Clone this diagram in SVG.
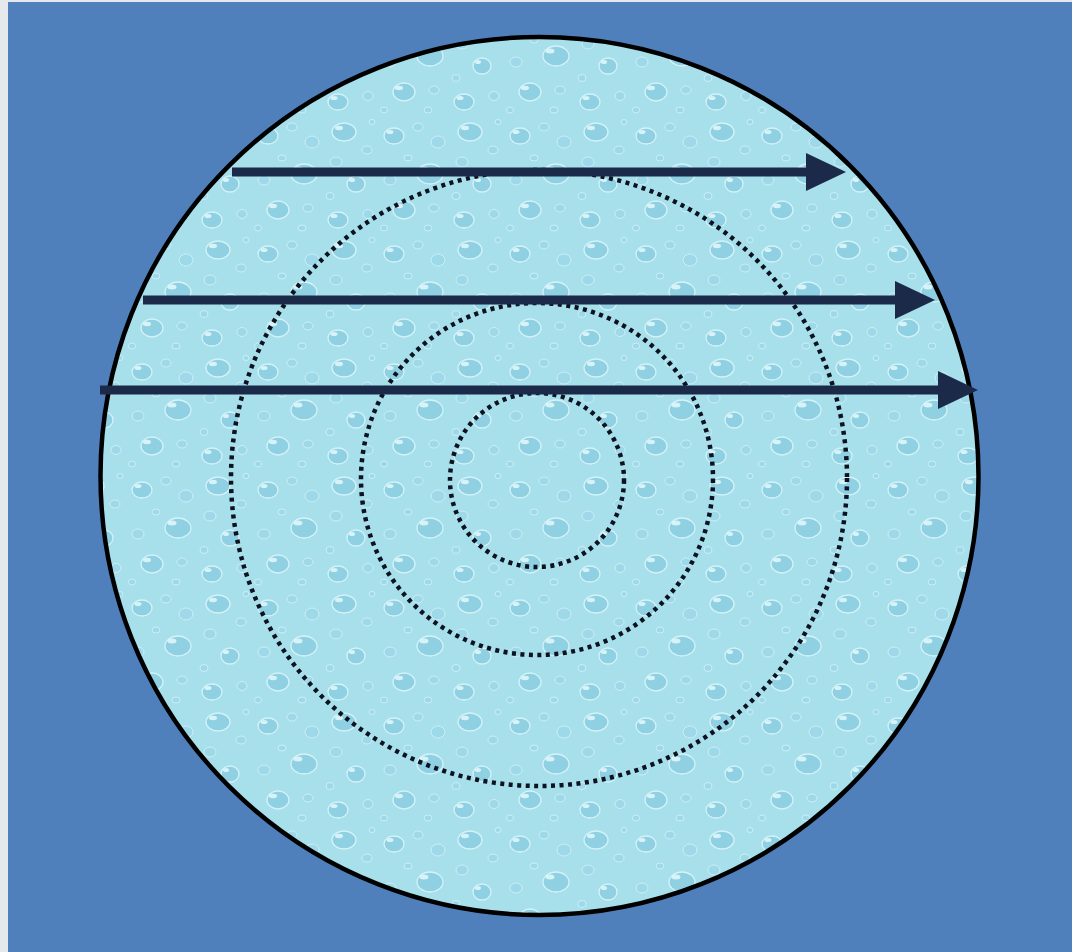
<svg xmlns="http://www.w3.org/2000/svg" width="1072" height="952" viewBox="0 0 1072 952">
<defs>
<style>
.dot{fill:none;stroke:#0d1220;stroke-width:4.5;stroke-dasharray:4 4.5}
.arr{stroke:#1b2a48;stroke-width:9;fill:none}
.head{fill:#1b2a48}
.d{fill:#8fd0e2;stroke:#d4f3f8;stroke-width:1.3}
.d2{fill:#9dd9e8;stroke:#cdeff6;stroke-width:1}
.h{fill:#e4f9fc;opacity:0.85}
</style>
<pattern id="drops" width="126" height="118" patternUnits="userSpaceOnUse">
<rect width="126" height="118" fill="#a7dfeb"/>
<ellipse class="d" cx="16" cy="18" rx="10" ry="8"/>
<ellipse class="h" cx="12" cy="14" rx="3.5" ry="2"/>
<ellipse class="d2" cx="40" cy="9" rx="5" ry="4"/>
<ellipse class="d2" cx="60" cy="24" rx="7" ry="6"/>
<ellipse class="d" cx="92" cy="14" rx="12" ry="9"/>
<ellipse class="h" cx="87" cy="10" rx="4" ry="2.2"/>
<ellipse class="d2" cx="115" cy="32" rx="5" ry="4"/>
<ellipse class="d2" cx="30" cy="40" rx="4" ry="3"/>
<ellipse class="d" cx="52" cy="56" rx="13" ry="10"/>
<ellipse class="h" cx="46" cy="51" rx="4.5" ry="2.5"/>
<ellipse class="d2" cx="84" cy="44" rx="6" ry="5"/>
<ellipse class="d2" cx="12" cy="62" rx="6" ry="5"/>
<ellipse class="d" cx="104" cy="66" rx="9" ry="8"/>
<ellipse class="h" cx="100" cy="62" rx="3" ry="2"/>
<ellipse class="d2" cx="78" cy="78" rx="4" ry="3.5"/>
<ellipse class="d" cx="26" cy="92" rx="11" ry="9"/>
<ellipse class="h" cx="21" cy="88" rx="4" ry="2.2"/>
<ellipse class="d2" cx="56" cy="90" rx="5" ry="4"/>
<ellipse class="d" cx="86" cy="102" rx="10" ry="8"/>
<ellipse class="h" cx="82" cy="98" rx="3.5" ry="2"/>
<ellipse class="d2" cx="116" cy="96" rx="5" ry="4.5"/>
<ellipse class="d2" cx="50" cy="110" rx="4" ry="3"/>
<ellipse class="d2" cx="6" cy="110" rx="3.5" ry="3"/>
<ellipse class="d2" cx="120" cy="4" rx="3" ry="2.5"/>
</pattern>
<marker id="ah" markerUnits="userSpaceOnUse" markerWidth="42" markerHeight="38" refX="20" refY="19" orient="auto">
<path d="M0,0 L40,19 L0,38 Z" class="head"/>
</marker>
</defs>
<rect x="0" y="0" width="1072" height="952" fill="#e6e9ec"/>
<rect x="8" y="2" width="1064" height="950" fill="#5080bb"/>
<g id="disc">
<circle cx="539.5" cy="476" r="439" fill="url(#drops)" stroke="#000" stroke-width="4.5"/>
</g>
<g id="rings">
<circle id="ring1" class="dot" cx="537" cy="480" r="87"/>
<circle id="ring2" class="dot" cx="537" cy="479" r="176"/>
<circle id="ring3" class="dot" cx="539" cy="478" r="308"/>
</g>
<g id="connectors">
<line class="arr" x1="232" y1="172" x2="826" y2="172" marker-end="url(#ah)"/>
<line class="arr" x1="143" y1="300" x2="915" y2="300" marker-end="url(#ah)"/>
<line class="arr" x1="100" y1="390" x2="958" y2="390" marker-end="url(#ah)"/>
</g>
</svg>
